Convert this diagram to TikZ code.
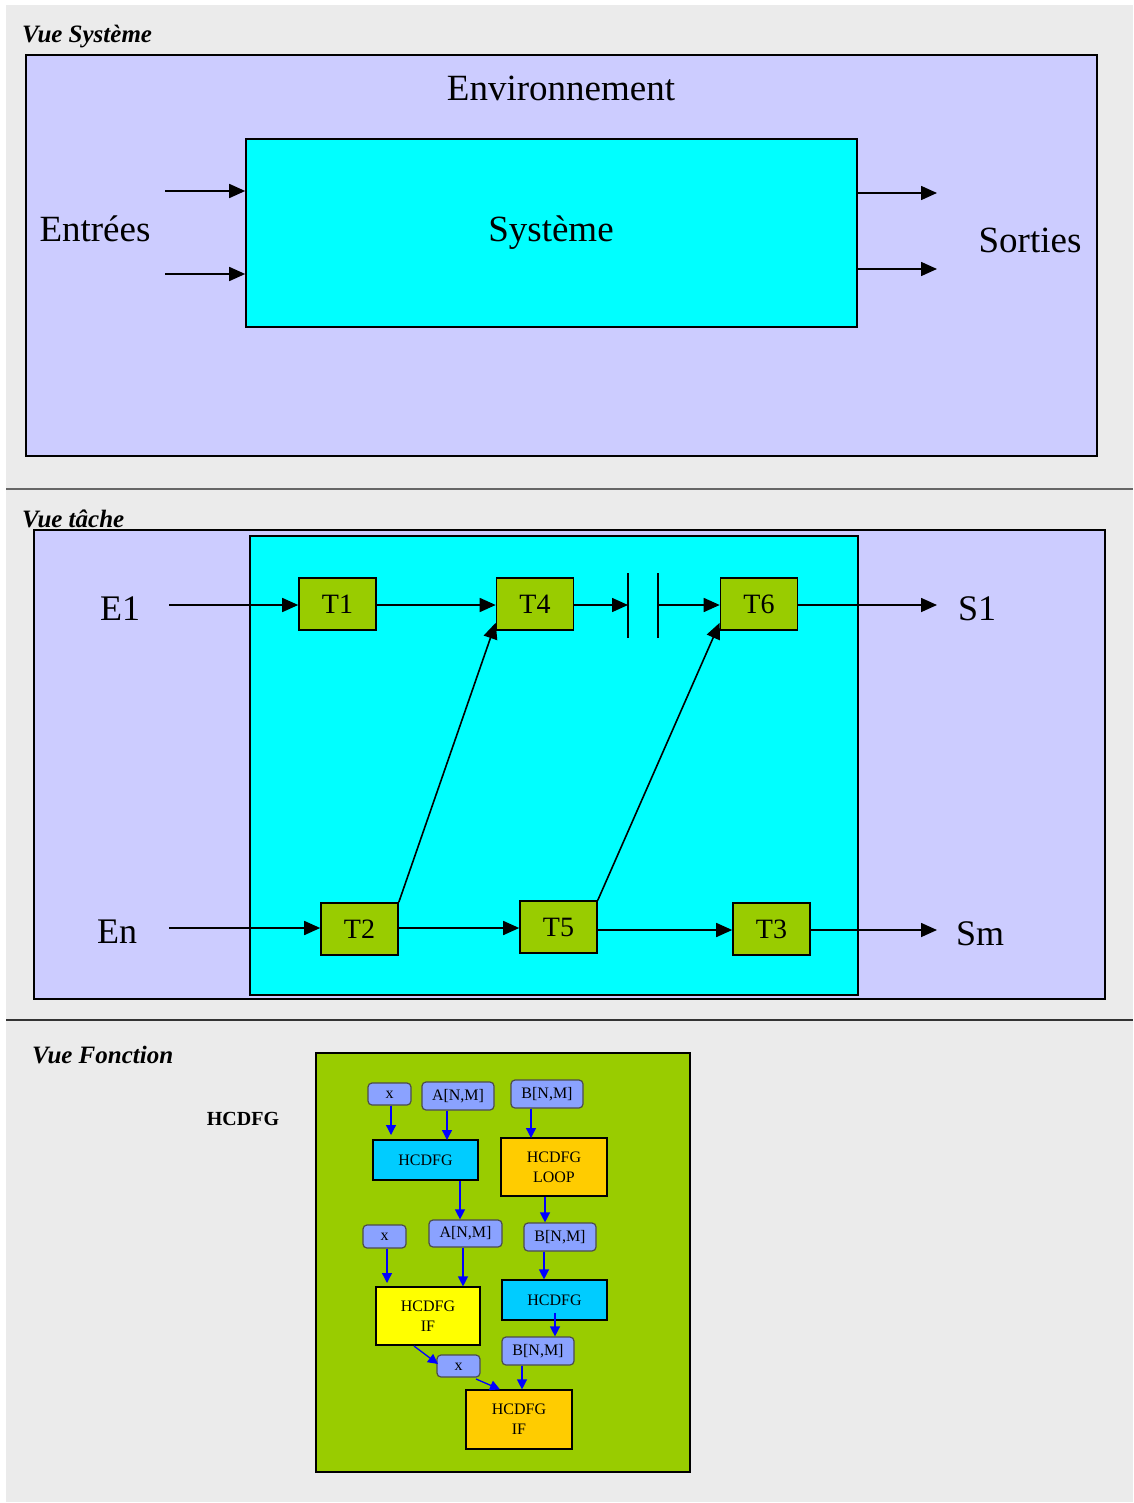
\documentclass[tikz,border=0pt]{standalone}
\usepackage{fontspec}
\setmainfont{Liberation Serif}
\usetikzlibrary{arrows.meta}
\definecolor{lavfig}{RGB}{204, 204, 255}
\definecolor{cyanfig}{RGB}{0, 255, 255}
\definecolor{greenfig}{RGB}{153, 204, 0}
\definecolor{bluefig}{RGB}{138, 162, 255}
\definecolor{skyfig}{RGB}{0, 204, 255}
\definecolor{orangefig}{RGB}{255, 204, 0}
\definecolor{yellowfig}{RGB}{255, 255, 0}
\definecolor{greyfig}{RGB}{235, 235, 235}
\tikzset{
  zone/.style={draw, line width=1.6pt, fill=#1, inner sep=0pt},
  task/.style={draw, line width=1.6pt, fill=greenfig, minimum width=77pt, minimum height=52pt, inner sep=0pt, font=\fontsize{28}{30}\selectfont},
  data/.style={draw=black!70, line width=1.2pt, rounded corners=4pt, fill=bluefig, inner sep=0pt, font=\fontsize{16}{17}\selectfont, text height=11pt, text depth=3pt},
  func/.style={draw, line width=1.2pt, fill=#1, inner sep=0pt, align=center, font=\fontsize{16}{20}\selectfont},
  big/.style={font=\fontsize{37}{40}\selectfont, anchor=base},
  lab/.style={font=\fontsize{36}{40}\selectfont, anchor=base},
  title/.style={font=\fontsize{25}{27}\selectfont\bfseries\itshape, anchor=base west, inner sep=0pt},
  flow/.style={line width=1.6pt, -{Triangle[length=16pt, width=14pt]}},
  dep/.style={line width=1.3pt, draw=blue, -{Triangle[length=10pt, width=10pt]}, fill=blue}
}
\begin{document}
\begin{tikzpicture}[x=1pt, y=-1pt]
\useasboundingbox (0,0) rectangle (1133,1503);
\fill[white] (0,0) rectangle (1133,1503);
\fill[greyfig] (6,5) rectangle (1133,1502);
\draw[line width=2pt, black!60] (6,489) -- (1133,489);
\draw[line width=2pt, black!80] (6,1020) -- (1133,1020);

% Vue Systeme
\node[title] (t1) at (22,43) {Vue Système};
\node[zone=lavfig, minimum width=1071pt, minimum height=401pt] (env) at (561.5,255.5) {};
\node[zone=cyanfig, minimum width=611pt, minimum height=188pt] (sys) at (551.5,233) {};
\node[big] (envtxt) at (561,101) {Environnement};
\node[big] (systxt) at (551,242) {Système};
\node[big] (entrees) at (95,242) {Entrées};
\node[big] (sorties) at (1030,253) {Sorties};
\coordinate (in1) at (165,191);
\coordinate (in2) at (165,274);
\coordinate (out1) at (937,193);
\coordinate (out2) at (937,269);
\draw[flow] (in1) -- (sys.west |- in1);
\draw[flow] (in2) -- (sys.west |- in2);
\draw[flow] (sys.east |- out1) -- (out1);
\draw[flow] (sys.east |- out2) -- (out2);

% Vue tache
\node[title] (t2) at (22,527) {Vue tâche};
\node[zone=lavfig, minimum width=1071pt, minimum height=469pt] (tenv) at (569.5,764.5) {};
\node[zone=cyanfig, minimum width=608pt, minimum height=459pt] (tsys) at (554,765.5) {};
\node[task] (T1) at (337.5,604) {T1};
\node[task] (T4) at (535,604) {T4};
\node[task] (T6) at (759,604) {T6};
\node[task] (T2) at (359.5,929) {T2};
\node[task] (T5) at (558.5,927) {T5};
\node[task] (T3) at (771.5,929) {T3};
\node[lab] (E1) at (120,620) {E1};
\node[lab] (En) at (117,943) {En};
\node[lab] (S1) at (977,620) {S1};
\node[lab] (Sm) at (980,945) {Sm};
\coordinate (e1) at (169,605);
\coordinate (en) at (169,928);
\coordinate (s1) at (937,605);
\coordinate (sm) at (937,930);
\coordinate (bar1) at (628,605);
\coordinate (bar2) at (658,605);
\draw[line width=1.6pt] (628,573) -- (628,638);
\draw[line width=1.6pt] (658,573) -- (658,638);
\draw[flow] (e1) -- (T1.west |- e1);
\draw[flow] (T1.east |- e1) -- (T4.west |- e1);
\draw[flow] (T4.east |- e1) -- (bar1);
\draw[flow] (bar2) -- (T6.west |- bar2);
\draw[flow] (T6.east |- s1) -- (s1);
\draw[flow] (en) -- (T2.west |- en);
\draw[flow] (T2.east |- en) -- (T5.west |- en);
\draw[flow] (T5.east |- sm) -- (T3.west |- sm);
\draw[flow] (T3.east |- sm) -- (sm);
\draw[flow] (T2.north east) -- ([yshift=8pt]T4.south west);
\draw[flow] (T5.north east) -- ([yshift=8pt]T6.south west);

% Vue Fonction
\node[title] (t3) at (32,1063) {Vue Fonction};
\node[font=\fontsize{20}{22}\selectfont\bfseries] (hc) at (243,1119) {HCDFG};
\node[zone=greenfig, minimum width=374pt, minimum height=419pt] (fbox) at (503,1262.5) {};
\node[data, minimum width=43pt, minimum height=22pt] (x1) at (389.5,1094) {x};
\node[data, minimum width=72pt, minimum height=28pt] (a1) at (458,1096) {A[N,M]};
\node[data, minimum width=72pt, minimum height=28pt] (b1) at (547,1094) {B[N,M]};
\node[func=skyfig, minimum width=105pt, minimum height=40pt] (h1) at (425.5,1160) {HCDFG};
\node[func=orangefig, minimum width=106pt, minimum height=58pt] (loop) at (554,1167) {HCDFG\\LOOP};
\node[data, minimum width=43pt, minimum height=23pt] (x2) at (384.5,1236.5) {x};
\node[data, minimum width=73pt, minimum height=27pt] (a2) at (465.5,1233.5) {A[N,M]};
\node[data, minimum width=72pt, minimum height=28pt] (b2) at (560,1237) {B[N,M]};
\node[func=yellowfig, minimum width=104pt, minimum height=58pt] (if1) at (428,1316) {HCDFG\\IF};
\node[func=skyfig, minimum width=105pt, minimum height=40pt] (h2) at (554.5,1300) {HCDFG};
\node[data, minimum width=72pt, minimum height=28pt] (b3) at (538,1351) {B[N,M]};
\node[data, minimum width=43pt, minimum height=22pt] (x3) at (458.5,1366) {x};
\node[func=orangefig, minimum width=106pt, minimum height=59pt] (if2) at (519,1419.5) {HCDFG\\IF};
\draw[dep] (x1.south -| 391,0) -- (391,1135);
\draw[dep] (a1.south -| 447,0) -- (447,1140);
\draw[dep] (b1.south -| 531,0) -- (531,1138);
\draw[dep] (h1.south -| 460,0) -- (a2.north -| 460,0);
\draw[dep] (loop.south -| 545,0) -- (b2.north -| 545,0);
\draw[dep] (x2.south -| 387,0) -- (387,1283);
\draw[dep] (a2.south -| 463,0) -- (if1.north -| 463,0);
\draw[dep] (b2.south -| 544,0) -- (h2.north -| 544,0);
\draw[dep] (555,1313) -- (b3.north -| 555,0);
\draw[dep] (414,1346) -- (438,1364);
\draw[dep] (476,1379) -- (if2.north -| 500,0);
\draw[dep] (b3.south -| 522,0) -- (if2.north -| 522,0);
\end{tikzpicture}
\end{document}
